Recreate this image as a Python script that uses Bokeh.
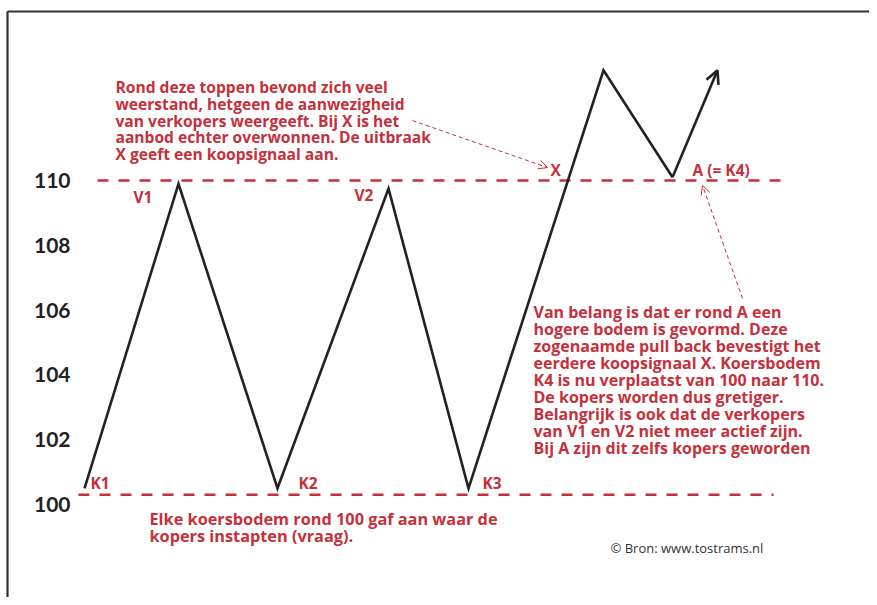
from bokeh.plotting import figure
from bokeh.models import Range1d, FixedTicker, Arrow, OpenHead, ColumnDataSource
from bokeh.core.properties import value
from bokeh.embed import file_html
from bokeh.resources import INLINE

RED = "#c4313b"
DARK = "#222222"
FONT = "Open Sans"

# ---- data (time units arbitrary, price in points) ----
price_t = [0.0, 9.4, 19.3, 30.4, 38.4, 51.9, 58.8]
price_y = [100.5, 109.9, 100.5, 109.75, 100.5, 113.4, 110.1]
tip_t, tip_y = 63.3, 113.4
y_ticks = [100, 102, 104, 106, 108, 110]

resist_level = 110.0
resist_t = [1.3, 70.4]
support_level = 100.3
support_t = [-0.6, 68.9]

point_names = ["V1", "V2", "K1", "K2", "K3", "X", "A (= K4)"]
point_t = [4.9, 27.0, 0.6, 21.4, 39.8, 46.6, 60.8]
point_y = [109.49, 109.54, 100.65, 100.65, 100.65, 110.33, 110.33]

top_note = [
    "Rond deze toppen bevond zich veel",
    "weerstand, hetgeen de aanwezigheid",
    "van verkopers weergeeft. Bij X is het",
    "aanbod echter overwonnen. De uitbraak",
    "X geeft een koopsignaal aan.",
]
top_note_t, top_note_y = 3.1, 112.90

right_note = [
    "Van belang is dat er rond A een",
    "hogere bodem is gevormd. Deze",
    "zogenaamde pull back bevestigt het",
    "eerdere koopsignaal X. Koersbodem",
    "K4 is nu verplaatst van 100 naar 110.",
    "De kopers worden dus gretiger.",
    "Belangrijk is ook dat de verkopers",
    "van  V1 en V2 niet meer actief zijn.",
    "Bij A zijn dit zelfs kopers geworden",
]
right_note_t, right_note_y = 44.9, 105.94

bottom_note = [
    "Elke koersbodem rond 100 gaf aan waar de",
    "kopers instapten (vraag).",
]
bottom_note_t, bottom_note_y = 6.5, 99.54

source_note = "© Bron: www.tostrams.nl"
source_t, source_y = 52.6, 98.67

# dashed pointer arrows: (t0, y0) -> (t1, y1)
pointer_t0 = [32.8, 65.8]
pointer_y0 = [111.85, 106.36]
pointer_t1 = [46.3, 61.8]
pointer_y1 = [110.40, 109.85]

LINE_STEP = 0.524  # vertical spacing of text lines (price units)

X0, X1 = -8.4, 78.5
Y0, Y1 = 97.130, 115.556

p = figure(width=869, height=597,
           x_range=Range1d(X0, X1), y_range=Range1d(Y0, Y1),
           x_axis_location=None, y_axis_location="left",
           output_backend="svg", toolbar_location=None, min_border=0)
p.outline_line_color = None
p.xgrid.visible = False
p.ygrid.visible = False
p.background_fill_color = "white"
p.border_fill_color = "white"

ax = p.yaxis[0]
ax.fixed_location = -0.5
ax.ticker = FixedTicker(ticks=y_ticks)
ax.axis_line_color = None
ax.major_tick_line_color = None
ax.minor_tick_line_color = None
ax.major_label_standoff = 3
ax.major_label_text_font = "Lato"
ax.major_label_text_font_style = "bold"
ax.major_label_text_font_size = "21px"
ax.major_label_text_color = DARK

# frame border (top and left)
p.line([-7.7, -7.7], [Y0, 115.216], line_color="#333333", line_width=2.2)
p.line([-7.7, X1], [115.216, 115.216], line_color="#333333", line_width=2.2)

# dashed levels
p.line(resist_t, [resist_level] * 2, line_color=RED, line_width=2.5, line_dash="11 10")
p.line(support_t, [support_level] * 2, line_color=RED, line_width=2.5, line_dash="11 10")

# price path
p.line(price_t, price_y, line_color=DARK, line_width=2.6, line_join="miter")
p.add_layout(Arrow(end=OpenHead(size=13, line_width=2.6, line_color=DARK),
                   x_start=price_t[-1], y_start=price_y[-1], x_end=tip_t, y_end=tip_y,
                   line_color=DARK, line_width=2.6))

# dashed pointers
for t0, y0, t1, y1 in zip(pointer_t0, pointer_y0, pointer_t1, pointer_y1):
    p.add_layout(Arrow(end=OpenHead(size=9, line_width=1, line_color=RED),
                       x_start=t0, y_start=y0, x_end=t1, y_end=y1,
                       line_color=RED, line_width=1, line_dash="4 3"))

def text_block(lines, t, y0, size):
    src = ColumnDataSource(dict(x=[t] * len(lines),
                                y=[y0 - i * LINE_STEP for i in range(len(lines))],
                                text=lines))
    p.text(x="x", y="y", text="text", source=src, text_color=RED,
           text_font=value(FONT), text_font_style="bold", text_font_size=size,
           text_align="left", text_baseline="middle")

text_block(top_note, top_note_t, top_note_y, "15.6px")
text_block(right_note, right_note_t, right_note_y, "16px")
text_block(bottom_note, bottom_note_t, bottom_note_y, "16.3px")

lab = ColumnDataSource(dict(x=point_t, y=point_y, text=point_names))
p.text(x="x", y="y", text="text", source=lab, text_color=RED,
       text_font=value(FONT), text_font_style="bold", text_font_size="15.5px",
       text_align="left", text_baseline="middle")

p.text(x=[source_t], y=[source_y], text=[source_note], text_color="#333333",
       text_font=value(FONT), text_font_size="13px",
       text_align="left", text_baseline="middle")

open("out.html", "w").write(file_html(p, INLINE))
